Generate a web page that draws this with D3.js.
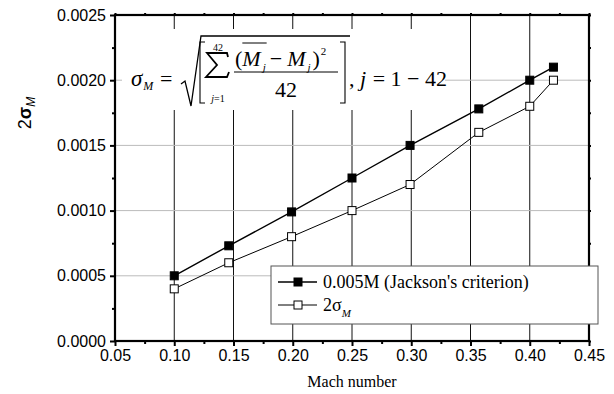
<!DOCTYPE html>
<html>
<head>
<meta charset="utf-8">
<script src="https://cdn.jsdelivr.net/npm/d3@7"></script>
<style>
  body { margin: 0; background: #fff; }
  svg { display: block; }
  text { white-space: pre; }
</style>
</head>
<body>
<script>
'use strict';

const w = 614;
const h = 394;

// data
const mach = [0.10, 0.146, 0.199, 0.25, 0.299, 0.357, 0.40, 0.42];
const jackson = [0.0005, 0.00073, 0.00099, 0.00125, 0.0015, 0.00178, 0.0020, 0.0021];
const sigma2 = [0.0004, 0.0006, 0.0008, 0.0010, 0.0012, 0.0016, 0.0018, 0.0020];
const xTicks = [0.05, 0.10, 0.15, 0.20, 0.25, 0.30, 0.35, 0.40, 0.45];
const yTicks = [0, 0.0005, 0.0010, 0.0015, 0.0020, 0.0025];
const legendLabels = ['0.005M (Jackson\'s criterion)', '2σ'];

const sans = '"Liberation Sans", Arial, sans-serif';
const serif = '"Liberation Serif", "Times New Roman", serif';

const m = {left: 115, right: 25, top: 15, bottom: 53};
const iw = w - m.left - m.right;
const ih = h - m.top - m.bottom;

const svg = d3.select('body').append('svg').attr('width', w).attr('height', h);
const g = svg.append('g').attr('transform', `translate(${m.left},${m.top})`);

const x = d3.scaleLinear().domain([0.05, 0.45]).range([0, iw]);
const y = d3.scaleLinear().domain([0, 0.0025]).range([ih, 0]);

// grid: dark verticals, light horizontals
g.selectAll('.vgrid')
  .data(xTicks.slice(1, -1))
  .enter()
  .append('line')
  .attr('x1', d => x(d)).attr('x2', d => x(d))
  .attr('y1', 0).attr('y2', ih)
  .attr('stroke', '#111').attr('stroke-width', 1);

g.selectAll('.hgrid')
  .data(yTicks.slice(1, -1))
  .enter()
  .append('line')
  .attr('x1', 0).attr('x2', iw)
  .attr('y1', d => y(d)).attr('y2', d => y(d))
  .attr('stroke', '#bbb').attr('stroke-width', 1);

// formula box (white, covers grid)
const fb = svg.append('g');
fb.append('rect')
  .attr('x', 122).attr('y', 29).attr('width', 323).attr('height', 81)
  .attr('fill', '#fff');

// lines + markers
const series = [
  {vals: jackson, fill: '#000', sw: 1.4},
  {vals: sigma2, fill: '#fff', sw: 1}
];
const line = d3.line().x(d => x(d[0])).y(d => y(d[1]));

series.forEach(s => {
  const pts = mach.map((v, i) => [v, s.vals[i]]);
  g.append('path')
    .attr('d', line(pts))
    .attr('fill', 'none')
    .attr('stroke', '#000')
    .attr('stroke-width', s.sw);
  g.selectAll(null)
    .data(pts)
    .enter()
    .append('rect')
    .attr('x', d => x(d[0]) - 4)
    .attr('y', d => y(d[1]) - 4)
    .attr('width', 8).attr('height', 8)
    .attr('fill', s.fill)
    .attr('stroke', '#000')
    .attr('stroke-width', 1);
});

// axes
const xMinor = d3.range(0.075, 0.45, 0.05);
const yMinor = d3.range(0.00025, 0.0025, 0.0005);

function styleAxis(sel) {
  sel.select('.domain').remove();
  sel.selectAll('line').attr('stroke', '#000').attr('stroke-width', 2);
  sel.selectAll('text').attr('font-family', sans).attr('font-size', 16).attr('fill', '#000');
}

g.append('g').attr('transform', `translate(0,${ih})`)
  .call(d3.axisBottom(x).tickValues(xTicks).tickFormat(d3.format('.2f')).tickSize(5).tickPadding(4))
  .call(styleAxis);
g.append('g').attr('transform', `translate(0,${ih})`)
  .call(d3.axisBottom(x).tickValues(xMinor).tickFormat('').tickSize(3))
  .call(styleAxis);
g.append('g')
  .call(d3.axisLeft(y).tickValues(yTicks).tickFormat(d3.format('.4f')).tickSize(5).tickPadding(4))
  .call(styleAxis);
g.append('g')
  .call(d3.axisLeft(y).tickValues(yMinor).tickFormat('').tickSize(3))
  .call(styleAxis);
g.append('g')
  .call(d3.axisTop(x).tickValues(xTicks.concat(xMinor)).tickFormat('').tickSize(2))
  .call(styleAxis);
g.append('g').attr('transform', `translate(${iw},0)`)
  .call(d3.axisRight(y).tickValues(yTicks.concat(yMinor)).tickFormat('').tickSize(2))
  .call(styleAxis);

// frame
g.append('rect')
  .attr('width', iw).attr('height', ih)
  .attr('fill', 'none').attr('stroke', '#000').attr('stroke-width', 2.2);

// axis titles
svg.append('text')
  .attr('x', x(0.25) + m.left).attr('y', 387)
  .attr('text-anchor', 'middle')
  .attr('font-family', serif).attr('font-size', 16)
  .text('Mach number');

const yl = svg.append('text')
  .attr('transform', 'translate(31,113) rotate(-90)')
  .attr('text-anchor', 'middle')
  .attr('font-family', sans).attr('font-size', 18);
yl.append('tspan').text('2');
yl.append('tspan').attr('font-weight', 'bold').text('σ');
yl.append('tspan').attr('font-size', 12).attr('font-style', 'italic').attr('dy', 4).text('M');

// formula, pieces placed one after the other
function piece(px, py, str, size, italic) {
  const t = fb.append('text')
    .attr('x', px).attr('y', py)
    .attr('font-family', serif).attr('font-size', size)
    .attr('font-style', italic ? 'italic' : 'normal')
    .text(str);
  return px + t.node().getComputedTextLength();
}

let cx = piece(131, 86, 'σ', 23, true);
piece(cx + 1, 90, 'M', 12, true);
piece(160, 86, '=', 22, false);

// radical and brackets
fb.append('path')
  .attr('d', 'M181,84 L185,81 L191,106 L201,36 L350,36')
  .attr('fill', 'none').attr('stroke', '#000').attr('stroke-width', 1.3);
fb.append('path')
  .attr('d', 'M205,42 L200,42 L200,103 L205,103')
  .attr('fill', 'none').attr('stroke', '#000').attr('stroke-width', 1.1);
fb.append('path')
  .attr('d', 'M340,42 L345,42 L345,103 L340,103')
  .attr('fill', 'none').attr('stroke', '#000').attr('stroke-width', 1.1);

// sum sign with limits
fb.append('path')
  .attr('d', 'M228,57 L227,53 L207,53 L217,65 L206,77 L227,77 L229,72')
  .attr('fill', 'none').attr('stroke', '#000').attr('stroke-width', 1.8)
  .attr('stroke-linejoin', 'miter');
fb.append('text').attr('x', 218).attr('y', 51).attr('text-anchor', 'middle')
  .attr('font-family', serif).attr('font-size', 10).text('42');
const lim = fb.append('text').attr('x', 218).attr('y', 102).attr('text-anchor', 'middle')
  .attr('font-family', serif).attr('font-size', 10);
lim.append('tspan').attr('font-style', 'italic').text('j');
lim.append('tspan').text('=1');

// numerator
cx = piece(235, 66, '(', 22, false);
const mStart = cx;
cx = piece(cx, 66, 'M', 22, true);
fb.append('line')
  .attr('x1', mStart).attr('x2', cx + 6).attr('y1', 43).attr('y2', 43)
  .attr('stroke', '#000').attr('stroke-width', 1);
cx = piece(cx + 2, 71, 'j', 11, true);
cx = piece(cx + 4, 66, '−', 22, false);
cx = piece(cx + 5, 66, 'M', 22, true);
cx = piece(cx + 2, 71, 'j', 11, true);
cx = piece(cx + 2, 66, ')', 22, false);
piece(cx + 1, 55, '2', 11, false);

fb.append('line')
  .attr('x1', 234).attr('x2', 338).attr('y1', 72).attr('y2', 72)
  .attr('stroke', '#000').attr('stroke-width', 1);
fb.append('text').attr('x', 286).attr('y', 97).attr('text-anchor', 'middle')
  .attr('font-family', serif).attr('font-size', 22).text('42');

cx = piece(349, 86, ', ', 22, false);
cx = piece(cx, 86, 'j', 22, true);
piece(cx + 1, 86, ' = 1 − 42', 22, false);

// legend
const lg = svg.append('g').attr('transform', 'translate(271,266)');
lg.append('rect')
  .attr('width', 327).attr('height', 58)
  .attr('fill', '#fff').attr('stroke', '#555').attr('stroke-width', 1);

legendLabels.forEach((lab, i) => {
  const ly = 16 + i * 23;
  lg.append('line')
    .attr('x1', 7).attr('x2', 46).attr('y1', ly).attr('y2', ly)
    .attr('stroke', '#000').attr('stroke-width', series[i].sw);
  lg.append('rect')
    .attr('x', 23).attr('y', ly - 4).attr('width', 8).attr('height', 8)
    .attr('fill', series[i].fill).attr('stroke', '#000').attr('stroke-width', 1);
  const t = lg.append('text')
    .attr('x', 52).attr('y', ly + 6)
    .attr('font-family', serif).attr('font-size', 18)
    .text(lab);
  if (i === 1) {
    t.append('tspan').attr('font-size', 11).attr('font-style', 'italic').attr('dy', 6).text('M');
  }
});
</script>
</body>
</html>
